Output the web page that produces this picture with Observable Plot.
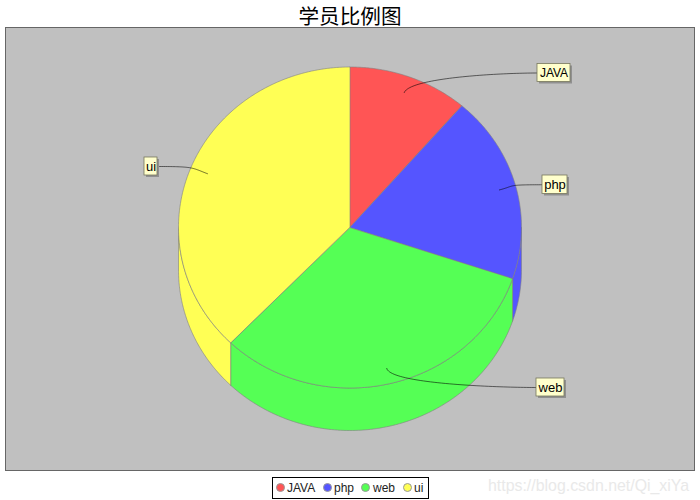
<!DOCTYPE html>
<html>
<head>
<meta charset="utf-8">
<script src="https://cdn.jsdelivr.net/npm/d3@7"></script>
<script src="https://cdn.jsdelivr.net/npm/@observablehq/plot@0.6"></script>
<style>
  html, body { margin: 0; padding: 0; background: #fff; }
  #page { position: relative; width: 700px; height: 500px; overflow: hidden; }
  #title { position: absolute; left: 0; top: 0; width: 700px; text-align: center;
           font: 20.6px/30px "Noto Sans CJK SC", sans-serif; color: #000; }
  #chart { position: absolute; left: 0; top: 27px; }
  #legend { position: absolute; left: 272px; top: 477px; width: 155px; height: 20px; border: 1px solid #000; background: #fff;
            font: 12px/20px "Liberation Sans", sans-serif; color: #222; }
  #legend span { position: absolute; top: 0; }
  #legend i { position: absolute; top: 5px; width: 7px; height: 7px; border-radius: 50%; border: 1px solid #999; box-sizing: content-box; }
  #mark { position: absolute; left: 488px; top: 474px; font: 15.9px/24px "Liberation Sans", sans-serif; color: #e9e9e9; white-space: nowrap; }
</style>
</head>
<body>
<div id="page">
  <div id="title"></div>
  <div id="chart"></div>
  <div id="mark">https://blog.csdn.net/Qi_xiYa</div>
  <div id="legend"></div>
</div>
<script>
const titleText = "学员比例图";
const categories = ["JAVA", "php", "web", "ui"];
const values = [30, 50, 85, 100];
const colors = ["#ff5555", "#5555ff", "#55ff55", "#ffff55"];

// Layout of the page, in page pixels (not data)
const cxPx = 350.5, cyPx = 228, rxPx = 171.5, ryPx = 160.5, depthPx = 42.5;
const labelBoxes = [
  {x1: 537.5, x2: 570.5, y1: 64, y2: 82, size: 12},
  {x1: 542.5, x2: 567.5, y1: 175.5, y2: 194, size: 13},
  {x1: 536.5, x2: 564.5, y1: 378.5, y2: 396.5, size: 13},
  {x1: 144.5, x2: 157.5, y1: 157.5, y2: 175.5, size: 13}
];
const legendDots = [3, 50, 88, 130];
const legendTexts = [14, 61, 100, 141];

const ux = p => (p - cxPx) / rxPx;
const uy = p => (cyPx - p) / ryPx;
const depth = depthPx / ryPx;
const total = d3.sum(values);
const rad = d => d * Math.PI / 180;

let run = 0;
const slices = categories.map((name, i) => {
  const start = run / total * 360;
  run += values[i];
  const end = run / total * 360;
  return {name, start, end, mid: (start + end) / 2, box: labelBoxes[i]};
});

function arc(a0, a1) {
  const n = Math.max(2, Math.ceil((a1 - a0) / 0.5));
  return d3.range(n + 1).map(k => a0 + (a1 - a0) * k / n);
}

const topRows = slices.flatMap(s => arc(s.start, s.end).map(a => ({
  name: s.name, cx: 0, cy: 0, x: Math.sin(rad(a)), y: Math.cos(rad(a))
})));
const sideRows = slices.flatMap(s => {
  const a0 = Math.max(s.start, 90), a1 = Math.min(s.end, 270);
  if (a1 <= a0) return [];
  return arc(a0, a1).map(a => ({
    name: s.name, x: Math.sin(rad(a)), y1: Math.cos(rad(a)), y2: Math.cos(rad(a)) - depth
  }));
});

const linkRows = slices.flatMap(s => {
  const b = s.box;
  const left = s.mid < 180;
  const ex = ux(left ? b.x1 : b.x2), ey = uy((b.y1 + b.y2) / 2);
  const sx = Math.sin(rad(s.mid)), sy = Math.cos(rad(s.mid));
  const p0 = [0.9 * sx, 0.9 * sy], p1 = [sx, sy];
  const p2 = [ex + (left ? -1 : 1) * 37 / rxPx, ey], p3 = [ex, ey];
  return d3.range(0, 1.0001, 0.02).map(t => {
    const m = 1 - t;
    const c = [m*m*m, 3*m*m*t, 3*m*t*t, t*t*t];
    return {
      name: s.name,
      x: c[0]*p0[0] + c[1]*p1[0] + c[2]*p2[0] + c[3]*p3[0],
      y: c[0]*p0[1] + c[1]*p1[1] + c[2]*p2[1] + c[3]*p3[1]
    };
  });
});

const boxes = slices.map(s => ({
  name: s.name, size: s.box.size,
  x1: ux(s.box.x1), x2: ux(s.box.x2),
  y1: uy(s.box.y1), y2: uy(s.box.y2),
  tx: ux((s.box.x1 + s.box.x2) / 2), ty: uy((s.box.y1 + s.box.y2) / 2)
}));

const outline = "#808080";
const plot = Plot.plot({
  width: 700,
  height: 446,
  marginLeft: 5, marginRight: 6,
  marginTop: 0, marginBottom: 3,
  style: {background: "transparent"},
  x: {domain: [ux(5.5), ux(694.5)], axis: null},
  y: {domain: [uy(470.5), uy(27.5)], axis: null},
  color: {domain: categories, range: colors},
  marks: [
    Plot.frame({fill: "#c0c0c0", stroke: "#666666", strokeWidth: 1}),
    Plot.area(sideRows, {x1: "x", y1: "y1", x2: "x", y2: "y2", z: "name", fill: "name", stroke: outline, strokeWidth: 0.6}),
    Plot.area(topRows, {x1: "cx", y1: "cy", x2: "x", y2: "y", z: "name", fill: "name", stroke: outline, strokeWidth: 0.6}),
    Plot.line(linkRows, {x: "x", y: "y", z: "name", stroke: "#000", strokeWidth: 0.8, strokeOpacity: 0.7, curve: "linear"}),
    Plot.rect(boxes, {x1: "x1", x2: "x2", y1: "y1", y2: "y2", fill: "#909090", dx: 2, dy: 2}),
    Plot.rect(boxes, {x1: "x1", x2: "x2", y1: "y1", y2: "y2", fill: "#ffffcc", stroke: "#77775c", strokeWidth: 0.8}),
    Plot.text(boxes, {x: "tx", y: "ty", text: "name", fontSize: "size", fill: "#000", fontFamily: "Liberation Sans, sans-serif"})
  ]
});
document.getElementById("chart").appendChild(plot);
document.getElementById("title").textContent = titleText;

const legend = document.getElementById("legend");
categories.forEach((name, i) => {
  const dot = document.createElement("i");
  dot.style.left = legendDots[i] + "px";
  dot.style.background = colors[i];
  legend.appendChild(dot);
  const t = document.createElement("span");
  t.style.left = legendTexts[i] + "px";
  t.textContent = name;
  legend.appendChild(t);
});
</script>
</body>
</html>
